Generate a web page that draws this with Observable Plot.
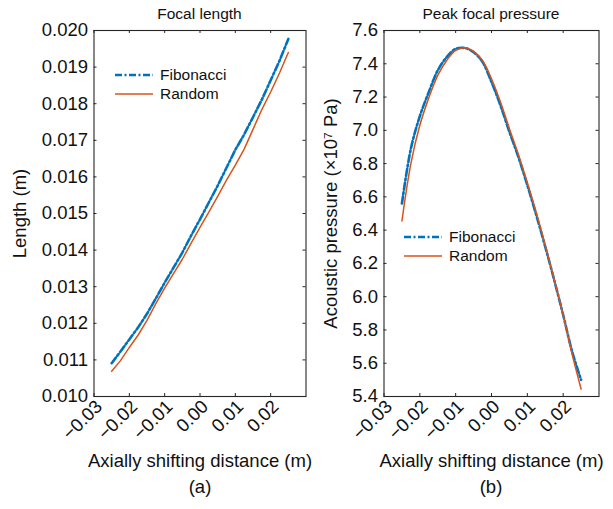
<!DOCTYPE html>
<html><head><meta charset="utf-8">
<script src="https://cdn.jsdelivr.net/npm/d3@7"></script>
<script src="https://cdn.jsdelivr.net/npm/@observablehq/plot@0.6"></script>
<style>
body{margin:0;background:#fff;}
#wrap{position:relative;width:613px;height:509px;font-family:"Liberation Sans",Arial,sans-serif;}
#wrap > svg, #wrap > div{position:absolute;top:0;}
</style></head><body><div id="wrap"></div>
<script>
// axial shifting distance (m)
const xs = [-0.025,-0.0225,-0.02,-0.0175,-0.015,-0.0125,-0.01,-0.0075,-0.005,-0.0025,0,0.0025,0.005,0.0075,0.01,0.0125,0.015,0.0175,0.02,0.0225,0.025];
// focal length (m)
const lenFib  = [0.01091,0.01123,0.01156,0.01189,0.01226,0.01268,0.01311,0.01352,0.01393,0.01440,0.01484,0.01530,0.01576,0.01625,0.01674,0.01716,0.01763,0.01811,0.01864,0.01917,0.01977];
const lenRand = [0.01069,0.01098,0.01134,0.01168,0.01208,0.01254,0.01296,0.01336,0.01375,0.01419,0.01462,0.01504,0.01547,0.01591,0.01632,0.01676,0.01730,0.01784,0.01832,0.01884,0.01940];
// peak focal pressure (x10^7 Pa)
const presFib  = [6.56,6.89,7.085,7.23,7.36,7.44,7.49,7.495,7.47,7.41,7.29,7.15,6.99,6.84,6.67,6.49,6.30,6.10,5.89,5.67,5.50];
const presRand = [6.455,6.80,7.03,7.195,7.33,7.42,7.48,7.497,7.475,7.42,7.31,7.17,7.01,6.855,6.685,6.505,6.31,6.105,5.89,5.655,5.445];

const xTicks = [-0.03,-0.02,-0.01,0.00,0.01,0.02];
const lenTicks = [0.010,0.011,0.012,0.013,0.014,0.015,0.016,0.017,0.018,0.019,0.020];
const presTicks = [5.4,5.6,5.8,6.0,6.2,6.4,6.6,6.8,7.0,7.2,7.4,7.6];
const seriesNames = ["Fibonacci","Random"];
const titles = ["Focal length","Peak focal pressure"];
const panelLabels = ["(a)","(b)"];

const BLUE = "#0072BD", ORANGE = "#D95319", INK = "#262626";
const FONT = "\"Liberation Sans\", Arial, sans-serif";
const H = 509, MT = 30, MB = 113, FH = H - MT - MB;

function panel({left, width, ml, mr, yDomain, yTicks, yFmt, yLabel, yLabelOffset, fib, rand, curve}) {
  const fw = width - ml - mr;
  const p = Plot.plot({
    width, height: H,
    marginLeft: ml, marginRight: mr, marginTop: MT, marginBottom: MB,
    style: {fontFamily: FONT, fontSize: "18.5px", color: "#111", background: "transparent", overflow: "visible"},
    x: {domain: [-0.03, 0.03]},
    y: {domain: yDomain},
    marks: [
      Plot.line(xs, {x: d => d, y: (d, i) => fib[i], stroke: BLUE, strokeWidth: 2.6, strokeDasharray: "7,2.5,2,2.5", curve}),
      Plot.line(xs, {x: d => d, y: (d, i) => rand[i], stroke: ORANGE, strokeWidth: 1.5, curve}),
      Plot.ruleX(xTicks, {stroke: INK, insetTop: FH - 3}),
      Plot.ruleX(xTicks, {stroke: INK, insetBottom: FH - 3}),
      Plot.ruleY(yTicks, {stroke: INK, insetRight: fw - 3}),
      Plot.ruleY(yTicks, {stroke: INK, insetLeft: fw - 3}),
      Plot.frame({stroke: INK, strokeWidth: 1.1}),
      Plot.axisY(yTicks, {anchor: "left", tickSize: 0, tickPadding: 6, tickFormat: yFmt,
        label: yLabel, labelAnchor: "center", labelArrow: "none", labelOffset: yLabelOffset, fill: "#111"}),
      Plot.axisX(xTicks, {anchor: "bottom", tickSize: 0, tickPadding: 7, tickRotate: -45, dx: 5, tickFormat: d3.format(".2f"),
        label: "Axially shifting distance (m)", labelAnchor: "center", labelArrow: "none", labelOffset: 70, fill: "#111"})
    ]
  });
  p.style.left = left + "px";
  return p;
}

const wrap = document.getElementById("wrap");
wrap.appendChild(panel({left: 0, width: 306, ml: 93.5, mr: 0.5, yDomain: [0.010, 0.020], yTicks: lenTicks,
  yFmt: d3.format(".3f"), yLabel: "Length (m)", yLabelOffset: 81, fib: lenFib, rand: lenRand, curve: "linear"}));
wrap.appendChild(panel({left: 306, width: 307, ml: 77.5, mr: 14.5, yDomain: [5.4, 7.6], yTicks: presTicks,
  yFmt: d3.format(".1f"), yLabel: "Acoustic pressure (×10⁷ Pa)", yLabelOffset: 60, fib: presFib, rand: presRand, curve: "catmull-rom"}));

// overlay: titles, legends, panel labels
const ov = d3.select(wrap).append("svg").attr("width", 613).attr("height", 509)
  .style("left", "0px").style("font-family", FONT).style("pointer-events", "none");
const titleX = [199.5, 491];
titles.forEach((t, i) => ov.append("text").attr("x", titleX[i]).attr("y", 18.5).attr("text-anchor", "middle")
  .attr("font-size", 15.5).attr("fill", "#111").text(t));
panelLabels.forEach((t, i) => ov.append("text").attr("x", [200, 491][i]).attr("y", 493).attr("text-anchor", "middle")
  .attr("font-size", 18.5).attr("fill", "#111").text(t));
const legends = [{x: 115, y: 75}, {x: 404, y: 237}];
legends.forEach(L => {
  seriesNames.forEach((name, j) => {
    const yy = L.y + j * 19;
    ov.append("line").attr("x1", L.x).attr("x2", L.x + 38).attr("y1", yy).attr("y2", yy)
      .attr("stroke", j ? ORANGE : BLUE).attr("stroke-width", j ? 1.5 : 2.6)
      .attr("stroke-dasharray", j ? null : "7,2.5,2,2.5");
    ov.append("text").attr("x", L.x + 45).attr("y", yy + 5.3).attr("font-size", 15.5).attr("fill", "#111").text(name);
  });
});
</script></body></html>
